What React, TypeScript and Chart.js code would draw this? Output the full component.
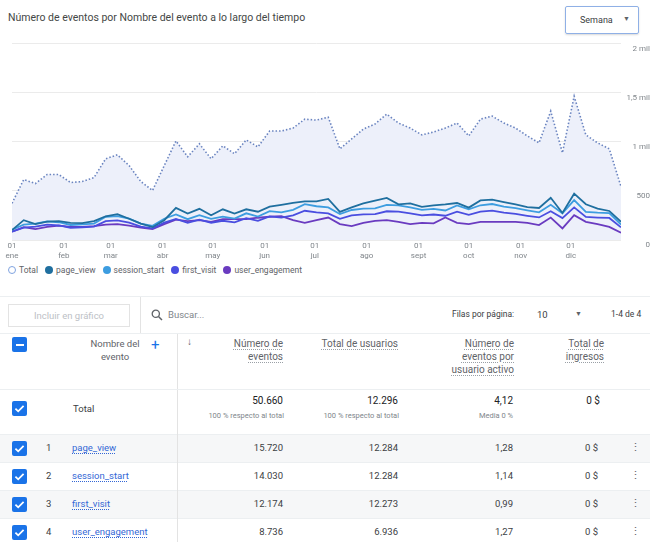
import React, { useEffect, useRef } from "react";
import { Chart, registerables } from "chart.js";

Chart.register(...registerables);

// ---------- DATA ----------
const weekDays = [
  0, 7, 14, 21, 28, 35, 42, 49, 56, 63, 70, 77, 84, 91, 98, 105, 112, 119, 126, 133, 140, 147, 154, 161, 168, 175,
  182, 189, 196, 203, 210, 217, 224, 231, 238, 245, 252, 259, 266, 273, 280, 287, 294, 301, 308, 315, 322, 329, 336,
  343, 350, 357, 364,
];

const monthTickDays = [0, 31, 59, 90, 120, 151, 181, 212, 243, 273, 304, 334];
const monthTickLabels = [
  ["01", "ene"], ["01", "feb"], ["01", "mar"], ["01", "abr"], ["01", "may"], ["01", "jun"],
  ["01", "jul"], ["01", "ago"], ["01", "sept"], ["01", "oct"], ["01", "nov"], ["01", "dic"],
];

const yTickValues = [0, 500, 1000, 1500, 2000];
const yTickLabels = ["0", "500", "1 mil", "1,5 mil", "2 mil"];

const totalEvents = [
  374, 616, 576, 667, 667, 586, 596, 636, 828, 869, 758, 596, 505, 758,
  1010, 848, 980, 828, 960, 879, 1020, 949, 1111, 1111, 1141, 1232, 1222, 1252,
  929, 1030, 1131, 1182, 1283, 1192, 1141, 1071, 1101, 1141, 1192, 1061, 1232,
  1263, 1192, 1141, 1061, 990, 1313, 889, 1465, 1071, 990, 929, 545,
];
const pageView = [
  101, 202, 162, 187, 192, 174, 172, 192, 242, 263, 217, 167, 131, 202,
  328, 270, 318, 252, 313, 270, 313, 288, 340, 359, 379, 394, 394, 419,
  286, 333, 374, 401, 429, 364, 374, 338, 354, 364, 377, 330, 404,
  411, 387, 364, 336, 326, 431, 276, 472, 364, 320, 296, 185,
];
const sessionStart = [
  104, 156, 167, 190, 181, 153, 160, 167, 237, 244, 217, 167, 145, 217,
  261, 212, 253, 215, 239, 218, 272, 239, 294, 281, 308, 365, 344, 332,
  265, 306, 320, 322, 359, 354, 333, 307, 318, 301, 352, 313, 354,
  367, 341, 326, 303, 282, 359, 272, 407, 287, 279, 274, 157,
];
const firstVisit = [
  85, 127, 136, 156, 148, 125, 130, 136, 193, 200, 178, 136, 118, 177,
  214, 174, 207, 176, 196, 179, 223, 195, 240, 229, 252, 298, 282, 272,
  216, 250, 262, 264, 293, 289, 272, 251, 260, 247, 288, 256, 289,
  300, 279, 266, 247, 230, 294, 223, 333, 235, 229, 225, 129,
];
const userEngagement = [
  84, 131, 111, 134, 146, 134, 134, 141, 156, 162, 146, 126, 111, 162,
  207, 192, 202, 185, 212, 212, 212, 227, 237, 242, 202, 175, 202, 229,
  162, 141, 175, 195, 202, 185, 162, 175, 169, 229, 175, 162, 185,
  185, 185, 185, 175, 152, 229, 118, 253, 185, 162, 134, 74,
];

const seriesNames = ["page_view", "session_start", "first_visit", "user_engagement"];
const seriesColors = ["#1f6f9f", "#3d9de0", "#4a4ee0", "#6a3bc0"];

// table
const rowIndex = ["1", "2", "3", "4"];
const rowEventCounts = ["15.720", "14.030", "12.174", "8.736"];
const rowUsers = ["12.284", "12.284", "12.273", "6.936"];
const rowPerUser = ["1,28", "1,14", "0,99", "1,27"];
const rowRevenue = ["0 $", "0 $", "0 $", "0 $"];
const totalRow = { events: "50.660", users: "12.296", perUser: "4,12", revenue: "0 $" };

const FONT = "Roboto, 'Noto Sans', Arial, sans-serif";

function ChartCanvas() {
  const ref = useRef<HTMLCanvasElement | null>(null);
  useEffect(() => {
    if (!ref.current) return;
    const toPts = (arr: number[]) => weekDays.map((d, i) => ({ x: d, y: arr[i] }));
    const seriesData = [pageView, sessionStart, firstVisit, userEngagement];
    const lineSets = seriesNames.map((name, k) => ({
      label: name,
      data: toPts(seriesData[k]),
      borderColor: seriesColors[k],
      backgroundColor: seriesColors[k],
      borderWidth: 1.8,
      pointRadius: 0,
      fill: false,
      tension: 0,
      order: k + 1,
    }));
    const chart = new Chart(ref.current, {
      type: "line",
      data: {
        datasets: [
          ...lineSets,
          {
            label: "Total",
            data: toPts(totalEvents),
            borderColor: "#6a84c0",
            backgroundColor: "#edf0fa",
            borderWidth: 1.6,
            borderDash: [1.5, 2],
            pointRadius: 0,
            fill: "origin",
            tension: 0,
            order: 10,
          },
        ],
      },
      options: {
        animation: false,
        responsive: false,
        maintainAspectRatio: false,
        layout: { padding: { left: 12, right: 0, top: 6, bottom: 0 } },
        plugins: { legend: { display: false }, tooltip: { enabled: false } },
        scales: {
          x: {
            type: "linear",
            min: 0,
            max: 364,
            grid: { display: false, drawTicks: false },
            border: { display: false },
            afterBuildTicks: (s: any) => {
              s.ticks = monthTickDays.map((v) => ({ value: v }));
            },
            afterFit: (s: any) => {
              s.height = 24;
            },
            ticks: {
              autoSkip: false,
              maxRotation: 0,
              minRotation: 0,
              padding: 1,
              color: "#80868b",
              font: { family: FONT, size: 8, lineHeight: 1.25 },
              callback: (v: any) => monthTickLabels[monthTickDays.indexOf(Number(v))] as any,
            },
          },
          y: {
            position: "right",
            min: 0,
            max: 2000,
            afterBuildTicks: (s: any) => {
              s.ticks = yTickValues.map((v) => ({ value: v }));
            },
            afterFit: (s: any) => {
              s.width = 29;
            },
            grid: { color: "#ebebeb", drawTicks: false },
            border: { display: false },
            ticks: {
              crossAlign: "far",
              labelOffset: 5,
              padding: 3,
              color: "#80868b",
              font: { family: FONT, size: 8 },
              callback: (v: any) => yTickLabels[yTickValues.indexOf(Number(v))],
            },
          },
        },
      },
    } as any);
    return () => chart.destroy();
  }, []);
  return (
    <canvas
      ref={ref}
      width={650}
      height={228}
      style={{ position: "absolute", left: 0, top: 36, width: 650, height: 228 }}
    />
  );
}

const abs = (s: React.CSSProperties): React.CSSProperties => ({ position: "absolute", ...s });

function CheckBox({ top }: { top: number }) {
  return (
    <div style={abs({ left: 12, top, width: 15, height: 15, background: "#1a73e8", borderRadius: 2 })}>
      <svg width="15" height="15" viewBox="0 0 15 15" style={{ display: "block" }}>
        <path d="M3.4 7.6 L6.2 10.3 L11.6 4.9" stroke="#fff" strokeWidth="1.8" fill="none" />
      </svg>
    </div>
  );
}

function RightText({
  right,
  top,
  children,
  size = 9.5,
  color = "#3c4043",
}: {
  right: number;
  top: number;
  children: React.ReactNode;
  size?: number;
  color?: string;
}) {
  return (
    <div
      style={abs({
        right: 650 - right,
        top,
        fontSize: size,
        color,
        whiteSpace: "nowrap",
        textAlign: "right",
        lineHeight: `${Math.round(size * 1.25)}px`,
      })}
    >
      {children}
    </div>
  );
}

const hdr: React.CSSProperties = {
  textDecoration: "underline dotted #9aa0a6",
  textUnderlineOffset: "2px",
};

export default function App() {
  const rowTops = [434, 462, 490, 518];
  return (
    <div
      style={{
        position: "fixed",
        left: 0,
        top: 0,
        width: 650,
        height: 542,
        overflow: "hidden",
        background: "#fff",
        fontFamily: FONT,
      }}
    >
      {/* title */}
      <div style={abs({ left: 8, top: 11, fontSize: 10.5, color: "#444746", whiteSpace: "nowrap" })}>
        Número de eventos por Nombre del evento a lo largo del tiempo
      </div>
      {/* dropdown */}
      <div
        style={abs({
          left: 565,
          top: 6,
          width: 74,
          height: 28,
          border: "1px solid #8fb0e6",
          borderRadius: 2,
          boxShadow: "0 1px 2px rgba(0,0,0,0.15)",
          boxSizing: "border-box",
        })}
      >
        <div style={abs({ left: 14, top: 8, fontSize: 9, color: "#3c4043" })}>Semana</div>
        <div style={abs({ left: 57, top: 8, fontSize: 7, color: "#5f6368" })}>▼</div>
      </div>

      <ChartCanvas />

      {/* legend */}
      <div
        style={abs({
          left: 8,
          top: 265,
          display: "flex",
          alignItems: "center",
          fontSize: 8.5,
          color: "#5f6368",
          whiteSpace: "nowrap",
        })}
      >
        <span
          style={{
            width: 6,
            height: 6,
            borderRadius: "50%",
            border: "1.3px solid #7fa3e0",
            display: "inline-block",
            marginRight: 3,
          }}
        />
        <span style={{ marginRight: 7 }}>Total</span>
        {seriesNames.map((n, k) => (
          <React.Fragment key={n}>
            <span
              style={{
                width: 8,
                height: 8,
                borderRadius: "50%",
                background: seriesColors[k],
                display: "inline-block",
                marginRight: 3,
              }}
            />
            <span style={{ marginRight: 7 }}>{n}</span>
          </React.Fragment>
        ))}
      </div>

      {/* toolbar */}
      <div style={abs({ left: 0, top: 296, width: 650, height: 1, background: "#eceff1" })} />
      <div
        style={abs({
          left: 8,
          top: 304,
          width: 122,
          height: 23,
          border: "1px solid #e3e3e3",
          boxSizing: "border-box",
          fontSize: 9.5,
          color: "#bdc1c6",
          textAlign: "center",
          lineHeight: "21px",
        })}
      >
        Incluir en gráfico
      </div>
      <div style={abs({ left: 140, top: 297, width: 1, height: 36, background: "#e3e3e3" })} />
      <svg style={abs({ left: 151, top: 309 })} width="12" height="12" viewBox="0 0 12 12">
        <circle cx="4.8" cy="4.8" r="3.6" stroke="#5f6368" strokeWidth="1.3" fill="none" />
        <path d="M7.5 7.5 L11 11" stroke="#5f6368" strokeWidth="1.5" />
      </svg>
      <div style={abs({ left: 168, top: 309, fontSize: 9.5, color: "#80868b" })}>Buscar...</div>
      <div style={abs({ left: 452, top: 309, fontSize: 8.5, color: "#3c4043" })}>Filas por página:</div>
      <div style={abs({ left: 537, top: 309, fontSize: 9.5, color: "#3c4043" })}>10</div>
      <div style={abs({ left: 575, top: 310, fontSize: 7, color: "#5f6368" })}>▼</div>
      <div style={abs({ left: 611, top: 309, fontSize: 8.5, color: "#3c4043", whiteSpace: "nowrap" })}>1-4 de 4</div>
      <div style={abs({ left: 0, top: 333, width: 650, height: 1, background: "#eceff1" })} />

      {/* header */}
      <div style={abs({ left: 177, top: 334, width: 1, height: 210, background: "#e3e3e3" })} />
      <div style={abs({ left: 12, top: 337, width: 15, height: 15, background: "#1a73e8", borderRadius: 2 })}>
        <div style={abs({ left: 3.5, top: 6.5, width: 8, height: 2, background: "#fff" })} />
      </div>
      <div
        style={abs({
          left: 78,
          top: 337,
          width: 74,
          fontSize: 9.5,
          color: "#5f6368",
          textAlign: "center",
          lineHeight: "13px",
        })}
      >
        Nombre del
        <br />
        evento
      </div>
      <div style={abs({ left: 151, top: 336, fontSize: 15, color: "#1a73e8", lineHeight: "18px" })}>+</div>
      <div style={abs({ left: 187, top: 336, fontSize: 10, color: "#5f6368" })}>↓</div>
      <RightText right={283} top={337} size={10} color="#5f6368">
        <div style={{ lineHeight: "13px" }}>
          <span style={hdr}>Número de</span>
          <br />
          <span style={hdr}>eventos</span>
        </div>
      </RightText>
      <RightText right={398} top={337} size={10} color="#5f6368">
        <div style={{ lineHeight: "13px" }}>
          <span style={hdr}>Total de usuarios</span>
        </div>
      </RightText>
      <RightText right={514} top={337} size={10} color="#5f6368">
        <div style={{ lineHeight: "13px" }}>
          <span style={hdr}>Número de</span>
          <br />
          <span style={hdr}>eventos por</span>
          <br />
          <span style={hdr}>usuario activo</span>
        </div>
      </RightText>
      <RightText right={604} top={337} size={10} color="#5f6368">
        <div style={{ lineHeight: "13px" }}>
          <span style={hdr}>Total de</span>
          <br />
          <span style={hdr}>ingresos</span>
        </div>
      </RightText>
      <div style={abs({ left: 0, top: 389, width: 650, height: 1, background: "#eceff1" })} />

      {/* total row */}
      <CheckBox top={401} />
      <div style={abs({ left: 73, top: 403, fontSize: 9.5, color: "#3c4043" })}>Total</div>
      <RightText right={283} top={394} size={10} color="#202124">{totalRow.events}</RightText>
      <RightText right={284} top={411} size={7.5} color="#80868b">100 % respecto al total</RightText>
      <RightText right={398} top={394} size={10} color="#202124">{totalRow.users}</RightText>
      <RightText right={399} top={411} size={7.5} color="#80868b">100 % respecto al total</RightText>
      <RightText right={513} top={394} size={10} color="#202124">{totalRow.perUser}</RightText>
      <RightText right={513} top={411} size={7.5} color="#80868b">Media 0 %</RightText>
      <RightText right={600} top={394} size={10} color="#202124">{totalRow.revenue}</RightText>

      {/* rows */}
      {seriesNames.map((name, i) => {
        const top = rowTops[i];
        return (
          <React.Fragment key={name}>
            <div
              style={abs({
                left: 0,
                top,
                width: 650,
                height: 28,
                background: i % 2 === 0 ? "#f6f7f8" : "#fff",
                borderTop: "1px solid #eceff1",
                boxSizing: "border-box",
              })}
            />
            <div style={abs({ left: 177, top, width: 1, height: 28, background: "#e3e3e3" })} />
            <CheckBox top={top + 7} />
            <div style={abs({ left: 46, top: top + 8, fontSize: 9.5, color: "#3c4043" })}>{rowIndex[i]}</div>
            <div
              style={abs({
                left: 72,
                top: top + 8,
                fontSize: 9.5,
                color: "#3367d6",
                textDecoration: "underline dotted",
                textUnderlineOffset: "2px",
              })}
            >
              {name}
            </div>
            <RightText right={283} top={top + 8} size={9.5}>{rowEventCounts[i]}</RightText>
            <RightText right={398} top={top + 8} size={9.5}>{rowUsers[i]}</RightText>
            <RightText right={513} top={top + 8} size={9.5}>{rowPerUser[i]}</RightText>
            <RightText right={598} top={top + 8} size={9.5}>{rowRevenue[i]}</RightText>
            <div style={abs({ left: 630, top: top + 7, fontSize: 11, color: "#5f6368" })}>⋮</div>
          </React.Fragment>
        );
      })}
    </div>
  );
}
